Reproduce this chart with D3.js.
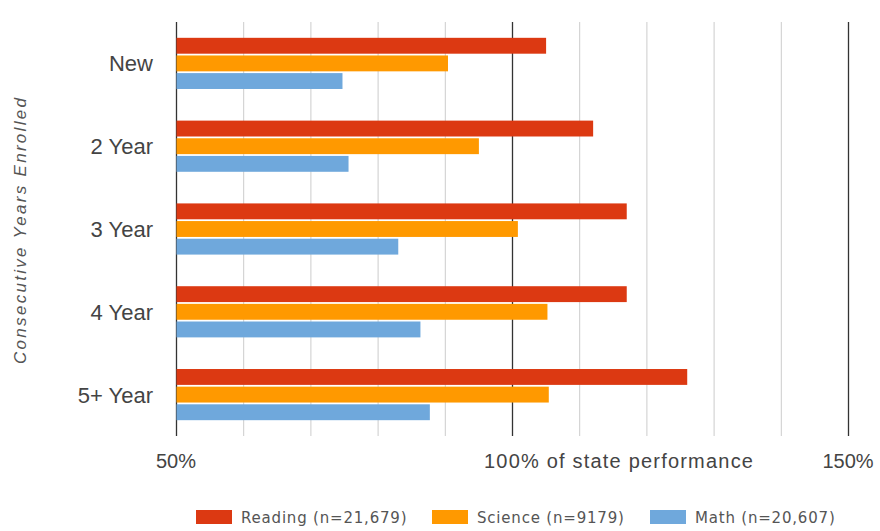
<!DOCTYPE html>
<html><head><meta charset="utf-8">
<script src="https://cdn.jsdelivr.net/npm/d3@7"></script>
<style>body{margin:0;background:#fff}svg{display:block}</style>
</head><body>
<svg id="c" width="880" height="531"></svg>
<script>
const categories = ["New", "2 Year", "3 Year", "4 Year", "5+ Year"];
const seriesNames = ["Reading (n=21,679)", "Science (n=9179)", "Math (n=20,607)"];
const reading = [105, 112, 117, 117, 126];
const science = [90.4, 95, 100.8, 105.2, 105.4];
const math = [74.7, 75.6, 83, 86.3, 87.7];
const tickValues = [50, 60, 70, 80, 90, 100, 110, 120, 130, 140, 150];
const majorTicks = [50, 100, 150];
const tickLabels = {50: "50%", 100: "100% of state performance", 150: "150%"};
const colors = ["#dc3912", "#ff9900", "#6fa8dc"];
const yTitle = "Consecutive Years Enrolled";

const series = [reading, science, math];
const svg = d3.select("#c");
const plotTop = 22, plotBottom = 436, plotLeft = 176, plotRight = 848;

const x = d3.scaleLinear().domain([50, 150]).range([plotLeft, plotRight]);
const y = d3.scaleBand().domain(categories).range([plotTop, plotBottom]).paddingInner(0.382).paddingOuter(0.191);
const yi = d3.scaleBand().domain(d3.range(3)).range([0, y.bandwidth()]).paddingInner(0.1);

// gridlines
svg.append("g").selectAll("line").data(tickValues).join("line")
  .attr("x1", d => x(d) + 0.5).attr("x2", d => x(d) + 0.5)
  .attr("y1", plotTop).attr("y2", plotBottom)
  .attr("stroke", d => majorTicks.includes(d) ? "#333" : "#cccccc")
  .attr("stroke-width", d => majorTicks.includes(d) ? 1.3 : 1);

// bars
const g = svg.append("g").selectAll("g").data(categories).join("g")
  .attr("transform", d => `translate(0,${y(d)})`);
g.selectAll("rect").data((c, i) => series.map((s, k) => ({k, v: s[i]}))).join("rect")
  .attr("x", x(50) + 0.5)
  .attr("y", d => yi(d.k))
  .attr("height", yi.bandwidth())
  .attr("width", d => x(d.v) - x(50))
  .attr("fill", d => colors[d.k]);

// category labels
svg.append("g").selectAll("text").data(categories).join("text")
  .attr("x", 153).attr("y", d => y(d) + y.bandwidth() / 2)
  .attr("dy", "0.36em").attr("text-anchor", "end")
  .attr("font-family", "Liberation Sans, Arial, sans-serif").attr("font-size", 22)
  .attr("fill", "#444").text(d => d);

// x tick labels
const tl = svg.append("g").attr("font-family", "Liberation Sans, Arial, sans-serif").attr("font-size", 20).attr("fill", "#444");
const ls100 = 1.2;
const meas = tl.append("text").attr("letter-spacing", ls100).text("100%");
const w100 = meas.node().getComputedTextLength();
meas.remove();
majorTicks.forEach(v => {
  const t = tl.append("text").attr("y", 468).text(tickLabels[v]);
  if (v === 100) t.attr("x", x(v) - w100 / 2).attr("text-anchor", "start").attr("letter-spacing", ls100);
  else t.attr("x", x(v)).attr("text-anchor", "middle");
});

// y title
svg.append("text")
  .attr("transform", `translate(26,231) rotate(-90)`)
  .attr("text-anchor", "middle")
  .attr("font-family", "Liberation Sans, Arial, sans-serif").attr("font-size", 17)
  .attr("font-style", "italic").attr("fill", "#555")
  .attr("textLength", 266).attr("lengthAdjust", "spacing")
  .text(yTitle);

// legend
const legX = [196, 432, 650];
const lg = svg.append("g").selectAll("g").data(seriesNames).join("g")
  .attr("transform", (d, i) => `translate(${legX[i]},510)`);
lg.append("rect").attr("width", 36).attr("height", 14).attr("fill", (d, i) => colors[i]);
lg.append("text").attr("x", 45).attr("y", 13)
  .attr("font-family", "DejaVu Sans, sans-serif").attr("font-size", 15)
  .attr("letter-spacing", 0.8).attr("fill", "#555").text(d => d);
</script>
</body></html>
